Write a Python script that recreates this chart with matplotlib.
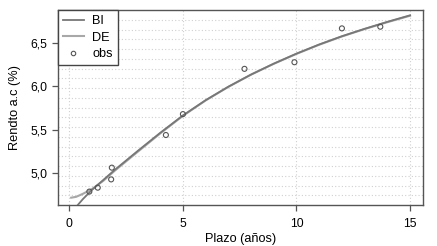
import numpy as np
import matplotlib
matplotlib.use("Agg")
import matplotlib.pyplot as plt
from matplotlib.lines import Line2D

plt.rcParams['font.family'] = ['Liberation Sans', 'DejaVu Sans']

# --- datos ---
plazo_obs = [0.88, 1.25, 1.84, 1.87, 4.25, 5.0, 7.71, 9.91, 12.0, 13.69]
rendto_obs = [4.79, 4.835, 4.93, 5.065, 5.44, 5.68, 6.20, 6.276, 6.665, 6.684]

plazo_bi = [0.0, 0.3, 0.6, 1.0, 1.5, 2.0, 3.0, 4.0, 5.0, 6.0, 7.0, 8.0,
            9.0, 10.0, 11.0, 12.0, 13.0, 14.0, 15.0]
rendto_bi = [4.52, 4.615, 4.705, 4.81, 4.925, 5.04, 5.255, 5.465, 5.665, 5.84,
             5.995, 6.135, 6.26, 6.375, 6.48, 6.575, 6.66, 6.74, 6.815]

plazo_de = [0.08, 0.3, 0.6, 1.0, 1.5, 2.0, 3.0, 4.0, 5.0, 6.0, 7.0, 8.0,
            9.0, 10.0, 11.0, 12.0, 13.0, 14.0, 15.0]
rendto_de = [4.72, 4.73, 4.765, 4.82, 4.915, 5.03, 5.245, 5.458, 5.66, 5.837,
             5.993, 6.133, 6.258, 6.372, 6.477, 6.572, 6.657, 6.736, 6.81]

xticks = [0, 5, 10, 15]
yticks = [5.0, 5.5, 6.0, 6.5]
ytick_labels = ["5,0", "5,5", "6,0", "6,5"]

# --- figura ---
fig = plt.figure(figsize=(4.37, 2.46), dpi=100)
ax = fig.add_axes([58 / 437, 41 / 246, 365 / 437, 195 / 246])

xlim = (-0.5, 15.57)
ylim = (4.636, 6.876)
ax.set_xlim(*xlim)
ax.set_ylim(*ylim)

# rejilla: verticales en los ticks, horizontales en 20 divisiones del panel
grid_kw = dict(color='#d0d0d0', lw=0.8, ls=(0, (1, 2)), zorder=0)
for xv in xticks:
    ax.axvline(xv, **grid_kw)
for k in range(1, 20):
    ax.axhline(ylim[0] + k / 20 * (ylim[1] - ylim[0]), **grid_kw)

ax.plot(plazo_bi, rendto_bi, color='#777777', lw=1.3, zorder=3)
ax.plot(plazo_de, rendto_de, color='#a8a8a8', lw=1.5, zorder=2)
ax.scatter(plazo_obs, rendto_obs, s=13, facecolors='none',
           edgecolors='#555555', linewidths=0.8, zorder=4)

ax.set_xticks(xticks)
ax.set_xticklabels([str(v) for v in xticks])
ax.set_yticks(yticks)
ax.set_yticklabels(ytick_labels)
ax.tick_params(direction='out', length=4.5, width=0.9, color='#555555',
               labelsize=8.7, pad=3)
ax.tick_params(axis='x', pad=5)

for s in ax.spines.values():
    s.set_color('#555555')
    s.set_linewidth(1.0)

ax.set_xlabel("Plazo (años)", fontsize=9.2, labelpad=2)
ax.set_ylabel("Rendto a.c (%)", fontsize=9.2, labelpad=7)

handles = [
    Line2D([], [], color='#777777', lw=1.3),
    Line2D([], [], color='#a8a8a8', lw=1.5),
    Line2D([], [], ls='none', marker='o', ms=3.2, mfc='none',
           mec='#555555', mew=0.8),
]
leg = ax.legend(handles, ["BI", "DE", "obs"], loc='upper left',
                borderaxespad=0, fancybox=False, fontsize=9.2,
                handlelength=1.6, handletextpad=0.7, labelspacing=0.35,
                borderpad=0.4, framealpha=1)
leg.get_frame().set_edgecolor('#444444')
leg.get_frame().set_linewidth(1.0)

fig.savefig("out.png", dpi=100)
